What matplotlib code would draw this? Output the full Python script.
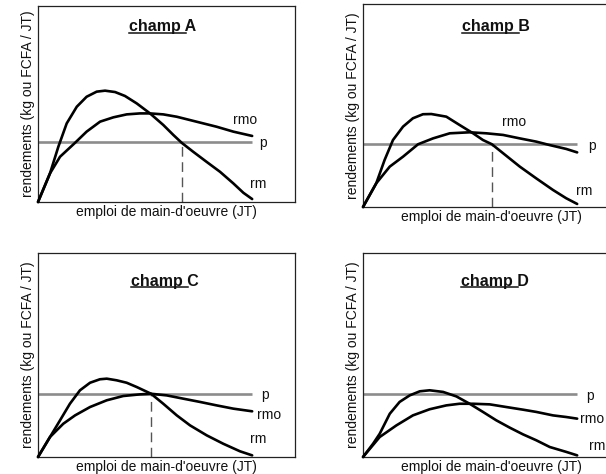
import matplotlib
matplotlib.use("Agg")
import matplotlib.pyplot as plt
from matplotlib.lines import Line2D

plt.rcParams["font.family"] = ["Liberation Sans", "DejaVu Sans"]

# ---- data (labour units on x, returns on y) ----
fields = ["A", "B", "C", "D"]

rm_x_A = [0, 0.56, 0.95, 1.34, 1.81, 2.27, 2.74, 3.13, 3.60, 4.06, 4.61, 5.23, 5.85, 6.32, 6.71, 7.25, 7.87, 8.50, 9.12, 9.59, 10.0]
rm_y_A = [0, 1.46, 2.82, 4.01, 4.86, 5.37, 5.63, 5.68, 5.61, 5.41, 5.03, 4.52, 3.93, 3.42, 3.02, 2.56, 2.05, 1.54, 0.95, 0.47, 0.15]
rmo_x_A = [0, 0.56, 1.03, 1.73, 2.27, 2.90, 3.52, 4.14, 4.76, 5.23, 5.85, 6.48, 7.10, 7.72, 8.34, 9.12, 10.0]
rmo_y_A = [0, 1.46, 2.31, 3.02, 3.59, 4.10, 4.32, 4.47, 4.52, 4.52, 4.47, 4.35, 4.18, 4.01, 3.84, 3.59, 3.37]

rm_x_B = [0, 0.62, 1.01, 1.40, 1.87, 2.33, 2.80, 3.19, 3.89, 4.51, 5.14, 5.60, 6.02, 6.54, 7.32, 8.09, 8.87, 9.49, 10.0]
rm_y_B = [0, 1.17, 2.32, 3.30, 3.96, 4.37, 4.57, 4.58, 4.45, 4.04, 3.63, 3.30, 3.09, 2.65, 1.99, 1.41, 0.84, 0.43, 0.15]
rmo_x_B = [0, 0.62, 1.25, 1.87, 2.57, 3.27, 4.05, 4.98, 5.76, 6.54, 7.32, 8.09, 8.72, 9.49, 10.0]
rmo_y_B = [0, 1.17, 1.99, 2.48, 3.09, 3.38, 3.63, 3.68, 3.63, 3.55, 3.38, 3.22, 3.05, 2.86, 2.69]

rm_x_C = [0, 0.56, 1.03, 1.49, 1.96, 2.43, 2.89, 3.21, 3.67, 4.14, 4.61, 5.28, 5.85, 6.48, 7.10, 7.88, 8.65, 9.43, 10.0]
rm_y_C = [0, 0.98, 1.80, 2.61, 3.27, 3.64, 3.81, 3.84, 3.76, 3.64, 3.43, 3.10, 2.61, 2.04, 1.55, 1.06, 0.65, 0.28, 0.08]
rmo_x_C = [0, 0.56, 1.18, 1.73, 2.43, 3.21, 3.98, 4.76, 5.28, 6.01, 6.78, 7.56, 8.34, 9.12, 10.0]
rmo_y_C = [0, 0.98, 1.63, 2.04, 2.45, 2.78, 2.99, 3.07, 3.10, 3.02, 2.86, 2.70, 2.53, 2.37, 2.24]

rm_x_D = [0, 0.47, 0.78, 1.25, 1.71, 2.18, 2.65, 3.11, 3.74, 4.36, 4.98, 5.60, 6.22, 6.85, 7.47, 8.09, 8.72, 9.49, 10.0]
rm_y_D = [0, 0.65, 1.14, 2.12, 2.70, 3.02, 3.22, 3.27, 3.19, 2.97, 2.61, 2.21, 1.80, 1.44, 1.11, 0.82, 0.49, 0.25, 0.08]
rmo_x_D = [0, 0.78, 1.56, 2.33, 3.11, 3.89, 4.51, 5.14, 5.92, 6.69, 7.47, 8.09, 8.87, 9.49, 10.0]
rmo_y_D = [0, 0.98, 1.55, 2.04, 2.34, 2.53, 2.61, 2.61, 2.58, 2.45, 2.32, 2.21, 2.04, 1.96, 1.88]

# price level and labour use where rm falls to the price (None: not marked)
price = {"A": 3.06, "B": 3.09, "C": 3.10, "D": 3.10}
optimum = {"A": 6.71, "B": 6.02, "C": 5.28, "D": None}
x_end = 10.0

curve_labels = ["rmo", "p", "rm"]
title_prefix = "champ "
xlabel_text = "emploi de main-d'oeuvre (JT)"
ylabel_text = "rendements (kg ou FCFA / JT)"

series = {
    "A": (rm_x_A, rm_y_A, rmo_x_A, rmo_y_A),
    "B": (rm_x_B, rm_y_B, rmo_x_B, rmo_y_B),
    "C": (rm_x_C, rm_y_C, rmo_x_C, rmo_y_C),
    "D": (rm_x_D, rm_y_D, rmo_x_D, rmo_y_D),
}

# ---- layout ----
W, H = 606, 474
fig = plt.figure(figsize=(W / 100, H / 100), dpi=100)
fig.patch.set_facecolor("white")

# panel boxes in pixels: left, top, width, height
boxes = {
    "A": (38, 6, 257, 196),
    "B": (363, 4, 257, 203),
    "C": (38, 253, 257, 204),
    "D": (363, 253, 257, 204),
}
# label positions (data coords) for rmo, p, rm
label_pos = {
    "A": [(9.67, 4.18), (10.50, 3.02), (10.30, 0.90)],
    "B": [(7.05, 4.19), (10.69, 3.00), (10.32, 0.79)],
    "C": [(10.80, 2.06), (10.62, 3.04), (10.30, 0.88)],
    "D": [(10.69, 1.86), (10.60, 2.99), (10.93, 0.54)],
}
title_pos = {"A": (0.486, 0.872), "B": (0.516, 0.866), "C": (0.494, 0.840), "D": (0.514, 0.840)}

curve_style = dict(color="black", lw=1.9, solid_capstyle="round",
                   solid_joinstyle="round", clip_on=False, zorder=3)

axes = {}
for f in fields:
    l, t, w, h = boxes[f]
    ax = fig.add_axes([l / W, (H - t - h) / H, w / W, h / H])
    axes[f] = ax
    ax.set_xlim(0, 12)
    ax.set_ylim(0, 10)
    ax.set_xticks([])
    ax.set_yticks([])
    for s in ax.spines.values():
        s.set_linewidth(0.9)
        s.set_color("#222222")

    rmx, rmy, rmox, rmoy = series[f]
    p = price[f]
    ax.plot([0, x_end], [p, p], color="#8c8c8c", lw=1.9, solid_capstyle="butt", zorder=2)
    if optimum[f] is not None:
        ax.plot([optimum[f], optimum[f]], [0, p], color="#555555", lw=1.0,
                dashes=(7, 4), zorder=2)
    ax.plot(rmox, rmoy, **curve_style)
    ax.plot(rmx, rmy, **curve_style)

    for name, (lx, ly) in zip(curve_labels, label_pos[f]):
        ax.text(lx, ly, name, fontsize=10, ha="center", va="center", color="#111111")

    ax.set_xlabel(xlabel_text, fontsize=10, color="#111111")
    ax.xaxis.set_label_coords(0.5, -3 / h)
    ax.set_ylabel(ylabel_text, fontsize=10, color="#111111")
    ax.yaxis.set_label_coords(-3 / w, 0.5)

# titles with underlined "champ "
fig.canvas.draw()
renderer = fig.canvas.get_renderer()
for f in fields:
    ax = axes[f]
    tx, ty = title_pos[f]
    t = ax.text(tx, ty, title_prefix + f, transform=ax.transAxes, fontsize=11.5,
                fontweight="bold", ha="center", va="baseline", color="#111111")
    letter = ax.text(0, 0, f, transform=ax.transAxes, fontsize=11.5,
                     fontweight="bold", alpha=0)
    bb = t.get_window_extent(renderer)
    lb = letter.get_window_extent(renderer)
    letter.remove()
    base_disp = ax.transAxes.transform((tx, ty))[1]
    y_line = base_disp - 1.5
    x0, x1 = bb.x0, bb.x1 - lb.width + 1
    inv = fig.transFigure.inverted()
    (fx0, fy), (fx1, _) = inv.transform([(x0, y_line), (x1, y_line)])
    fig.add_artist(Line2D([fx0, fx1], [fy, fy], transform=fig.transFigure,
                          color="#111111", lw=1.1))

fig.savefig("out.png", dpi=100, facecolor="white")
